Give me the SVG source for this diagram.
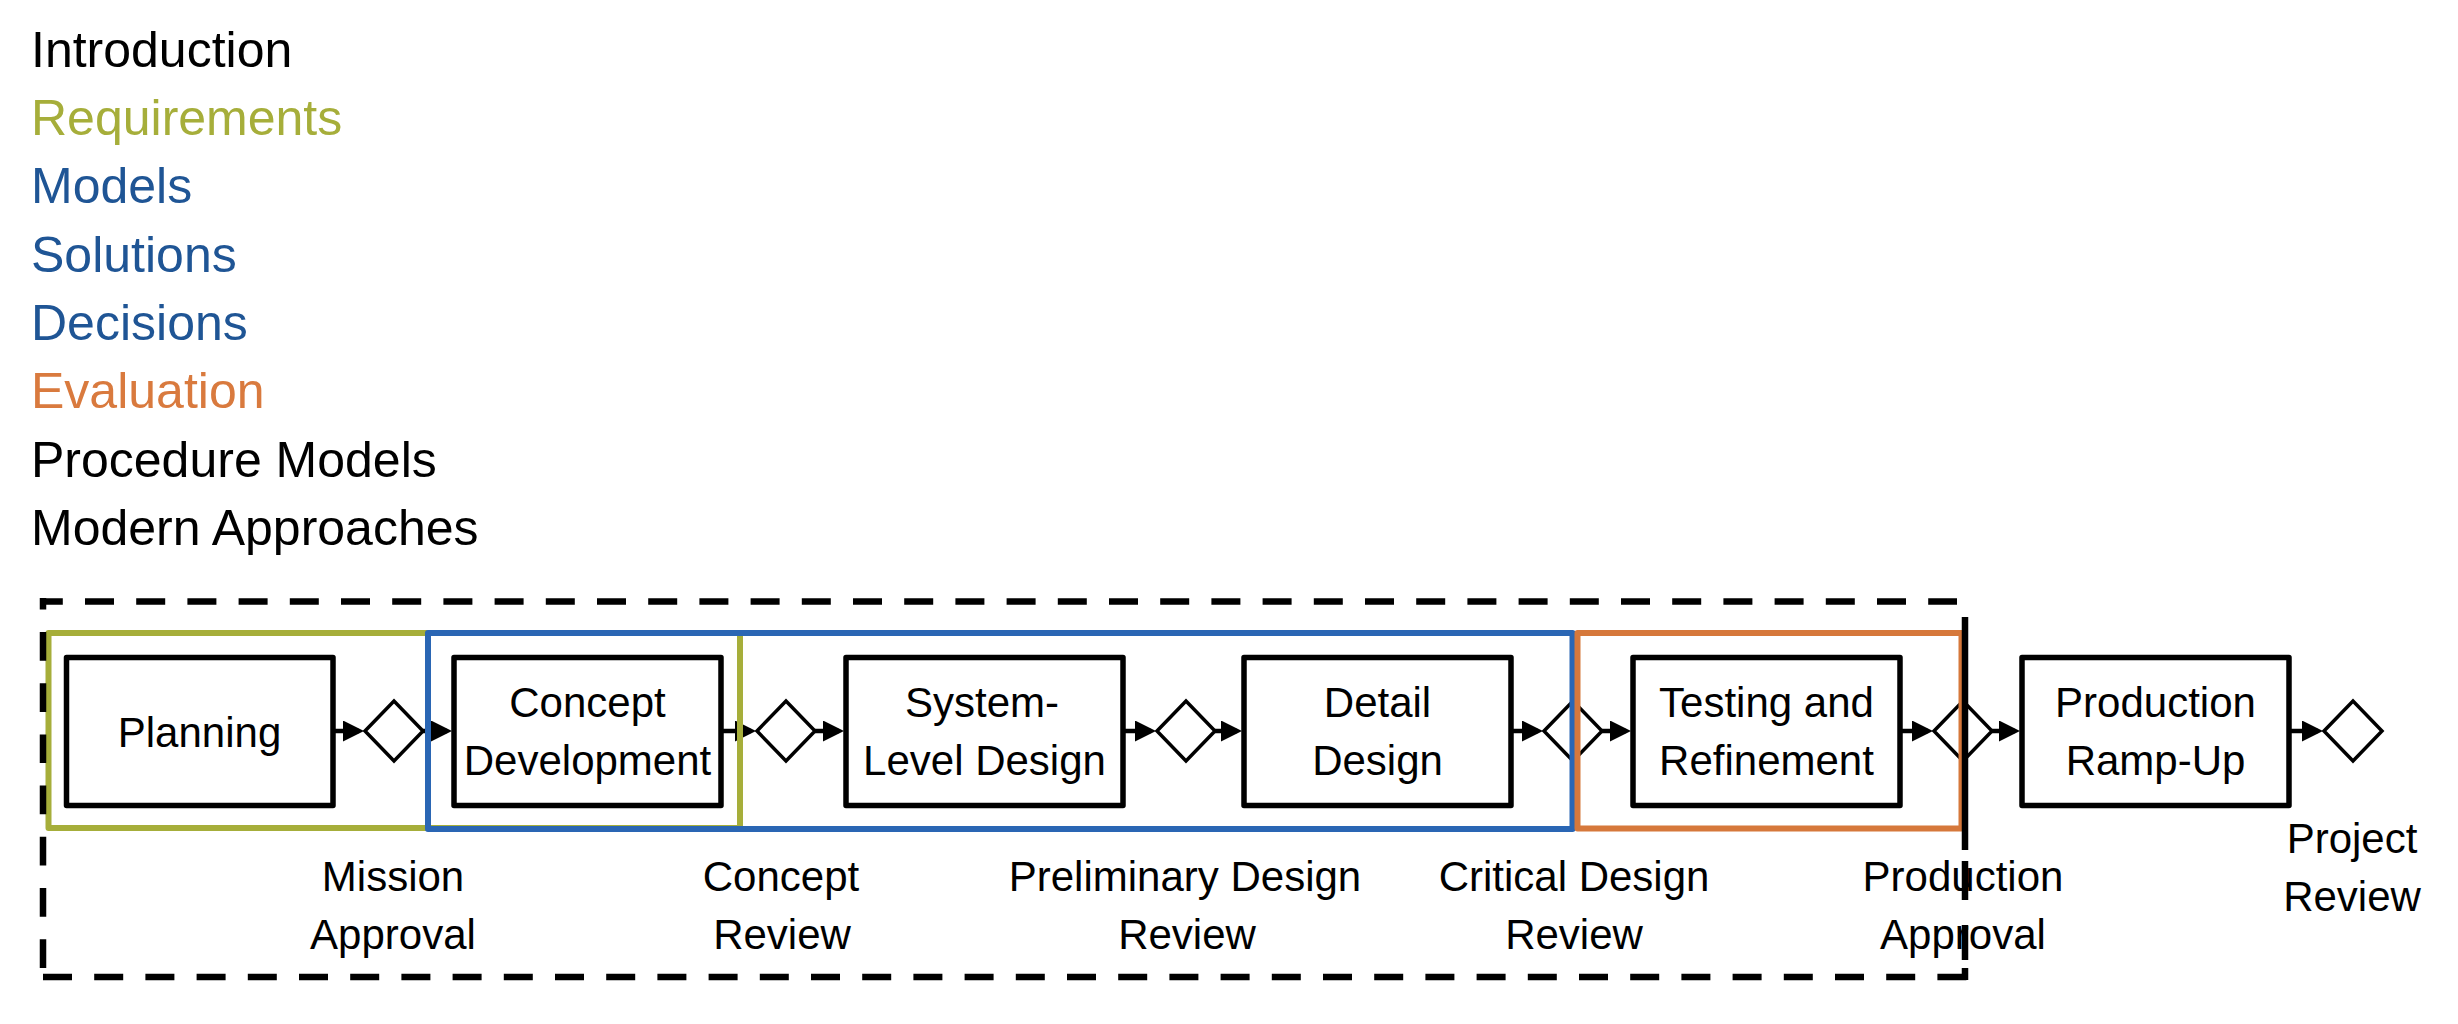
<svg xmlns="http://www.w3.org/2000/svg" width="2458" height="1024" viewBox="0 0 2458 1024">
<style>
  text { font-family: "Liberation Sans", Arial, sans-serif; fill: #000; }
  .list { font-size: 50px; }
  .lbl { font-size: 42px; text-anchor: middle; }
  .box { fill: #fff; stroke: #000; stroke-width: 5.5; stroke-linejoin: round; }
  .gate { fill: #fff; stroke: #000; stroke-width: 3.5; stroke-linejoin: miter; }
  .conn { fill: none; stroke: #000; stroke-width: 4.5; marker-end: url(#arrow); }
  .frame { fill: none; stroke-width: 6; stroke-linejoin: round; }
  .dash { fill: none; stroke: #000; stroke-width: 6.5; }
</style>
<defs>
  <marker id="arrow" markerUnits="userSpaceOnUse" markerWidth="22" markerHeight="22" refX="16" refY="10.5" orient="auto">
    <path d="M0,0 L21,10.5 L0,21 z" fill="#000"/>
  </marker>
</defs>
<rect x="0" y="0" width="2458" height="1024" fill="#fff"/>

<g id="outline">
  <text class="list" x="31" y="66.7">Introduction</text>
  <text class="list" x="31" y="135" style="fill:#A6AE3A">Requirements</text>
  <text class="list" x="31" y="203.3" style="fill:#1F5595">Models</text>
  <text class="list" x="31" y="271.6" style="fill:#1F5595">Solutions</text>
  <text class="list" x="31" y="339.9" style="fill:#1F5595">Decisions</text>
  <text class="list" x="31" y="408.2" style="fill:#D97A3E">Evaluation</text>
  <text class="list" x="31" y="476.5">Procedure Models</text>
  <text class="list" x="31" y="544.8">Modern Approaches</text>
</g>

<g id="connectors">
  <path class="conn" d="M333,731 H359"/>
  <path class="conn" d="M423,731 H447"/>
  <path class="conn" d="M721,731 H751"/>
  <path class="conn" d="M815,731 H839"/>
  <path class="conn" d="M1123,731 H1151"/>
  <path class="conn" d="M1215,731 H1237"/>
  <path class="conn" d="M1511,731 H1538"/>
  <path class="conn" d="M1602,731 H1626"/>
  <path class="conn" d="M1900,731 H1928"/>
  <path class="conn" d="M1992,731 H2015"/>
  <path class="conn" d="M2289,731 H2318"/>
</g>

<g id="planning">
  <rect class="box" x="66.5" y="657.5" width="266.5" height="148"/>
  <text class="lbl" x="199.5" y="746.5">Planning</text>
</g>
<g id="concept-development">
  <rect class="box" x="454" y="657.5" width="267" height="148"/>
  <text class="lbl" x="587.5" y="717">Concept</text>
  <text class="lbl" x="587.5" y="775">Development</text>
</g>
<g id="system-level-design">
  <rect class="box" x="846" y="657.5" width="277" height="148"/>
  <text class="lbl" x="982" y="717">System-</text>
  <text class="lbl" x="984.5" y="775">Level Design</text>
</g>
<g id="detail-design">
  <rect class="box" x="1244" y="657.5" width="267" height="148"/>
  <text class="lbl" x="1377.5" y="717">Detail</text>
  <text class="lbl" x="1377.5" y="775">Design</text>
</g>
<g id="testing-and-refinement">
  <rect class="box" x="1633" y="657.5" width="267" height="148"/>
  <text class="lbl" x="1766.5" y="717">Testing and</text>
  <text class="lbl" x="1766.5" y="775">Refinement</text>
</g>
<g id="production-ramp-up">
  <rect class="box" x="2022" y="657.5" width="267" height="148"/>
  <text class="lbl" x="2155.5" y="717">Production</text>
  <text class="lbl" x="2155.5" y="775">Ramp-Up</text>
</g>

<g id="mission-approval">
  <polygon class="gate" points="365,731 394,701 423,731 394,761"/>
  <text class="lbl" x="393" y="891">Mission</text>
  <text class="lbl" x="393" y="949">Approval</text>
</g>
<g id="concept-review">
  <polygon class="gate" points="757,731 786,701 815,731 786,761"/>
  <text class="lbl" x="781" y="891">Concept</text>
  <text class="lbl" x="782" y="949">Review</text>
</g>
<g id="preliminary-design-review">
  <polygon class="gate" points="1157,731 1186,701 1215,731 1186,761"/>
  <text class="lbl" x="1185" y="891">Preliminary Design</text>
  <text class="lbl" x="1187" y="949">Review</text>
</g>
<g id="critical-design-review">
  <polygon class="gate" points="1544,731 1573,701 1602,731 1573,761"/>
  <text class="lbl" x="1574" y="891">Critical Design</text>
  <text class="lbl" x="1574" y="949">Review</text>
</g>
<g id="production-approval">
  <polygon class="gate" points="1934,731 1963,701 1992,731 1963,761"/>
  <text class="lbl" x="1963" y="891">Production</text>
  <text class="lbl" x="1963" y="949">Approval</text>
</g>
<g id="project-review">
  <polygon class="gate" points="2324,731 2353,701 2382,731 2353,761"/>
  <text class="lbl" x="2352" y="853">Project</text>
  <text class="lbl" x="2352" y="911">Review</text>
</g>

<g id="phase-frames">
  <rect class="frame" x="48.5" y="633" width="691.5" height="195" stroke="#A6AE3A"/>
  <rect class="frame" x="428" y="633" width="1144.5" height="196" stroke="#2A66B4"/>
  <rect class="frame" x="1577.5" y="633" width="384" height="195.5" stroke="#D6783B"/>
</g>

<g id="scope-frame">
  <line class="dash" x1="40" y1="601.5" x2="1957" y2="601.5" stroke-dasharray="29 22.2" stroke-dashoffset="6.2"/>
  <line class="dash" x1="43" y1="598" x2="43" y2="968" stroke-dasharray="28.7 22.5" stroke-dashoffset="17.2"/>
  <line class="dash" x1="43" y1="977" x2="1967" y2="977" stroke-dasharray="29 22.2"/>
  <path class="dash" d="M1965,617 V850 M1965,861 V900 M1965,925 V960 M1965,968 V980"/>
</g>
</svg>
